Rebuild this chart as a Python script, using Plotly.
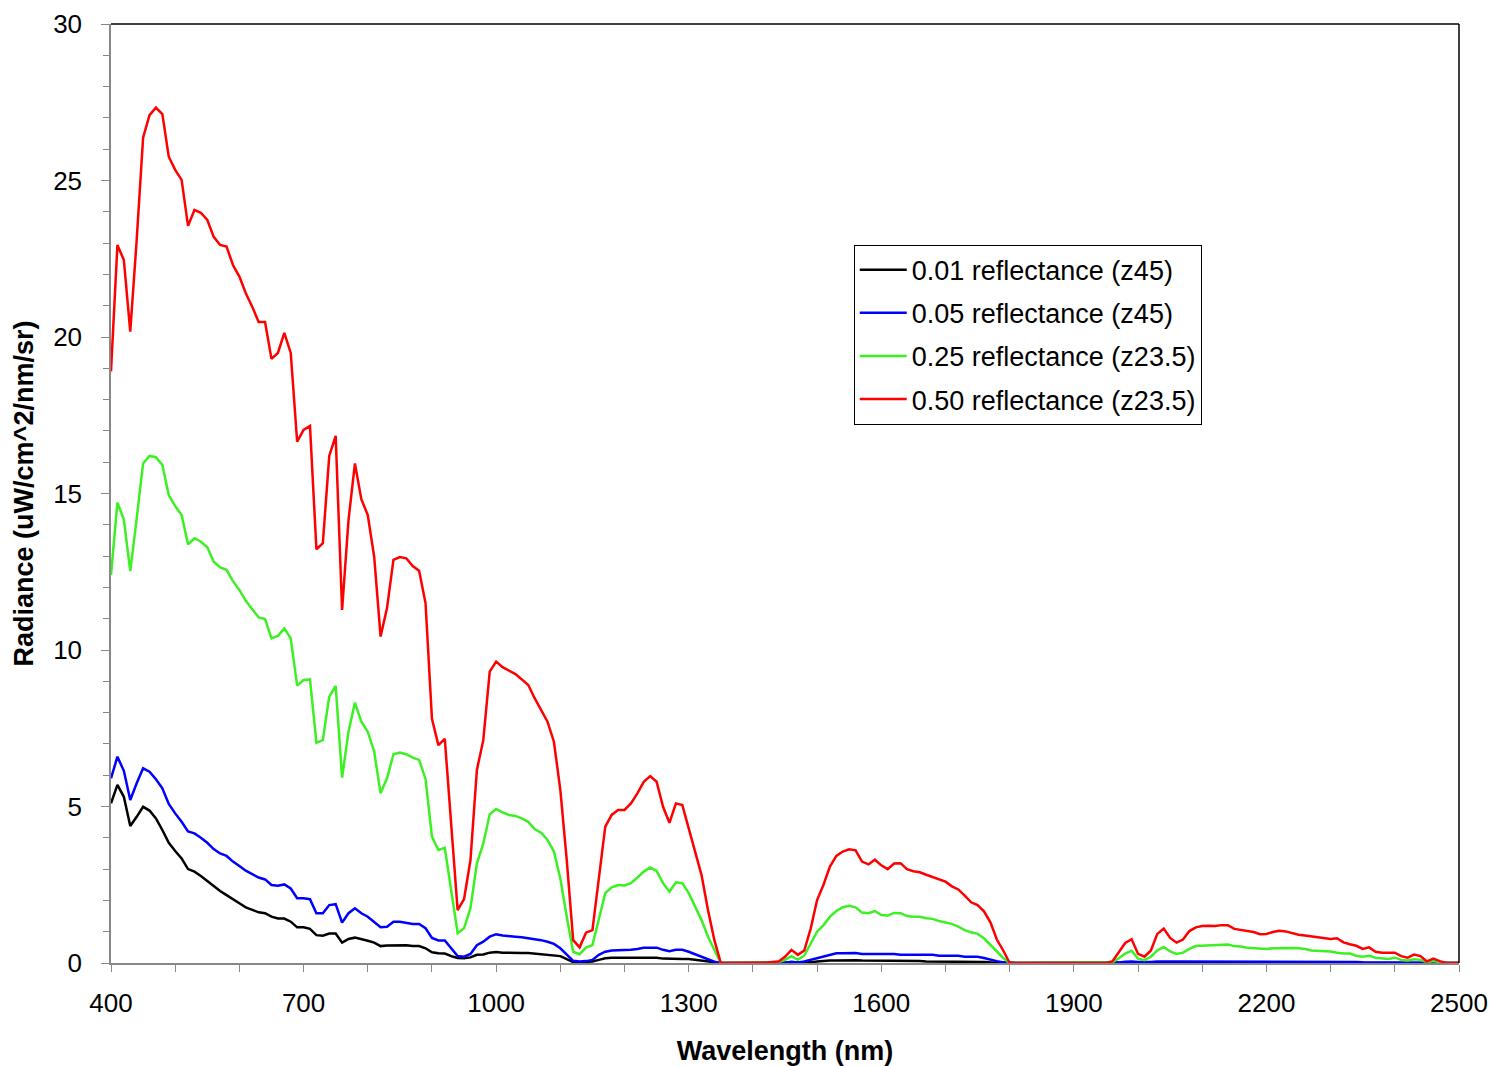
import plotly.graph_objects as go

wavelength = list(range(400, 2501, 10))

refl_001 = [
    5.1, 5.69, 5.31, 4.38, 4.67, 4.99, 4.87, 4.62, 4.25, 3.84,
    3.58, 3.34, 3.0, 2.92, 2.78, 2.62, 2.44, 2.3, 2.17, 2.03,
    1.91, 1.78, 1.69, 1.62, 1.59, 1.48, 1.42, 1.42, 1.32, 1.14,
    1.14, 1.09, 0.89, 0.87, 0.94, 0.94, 0.65, 0.77, 0.81, 0.77,
    0.71, 0.65, 0.54, 0.56, 0.57, 0.57, 0.57, 0.54, 0.54, 0.47,
    0.34, 0.31, 0.3, 0.22, 0.16, 0.15, 0.18, 0.26, 0.27, 0.33,
    0.35, 0.33, 0.32, 0.32, 0.32, 0.32, 0.3, 0.28, 0.28, 0.26,
    0.22, 0.12, 0.03, 0.02, 0.03, 0.05, 0.1, 0.15, 0.17, 0.17,
    0.17, 0.17, 0.17, 0.17, 0.17, 0.17, 0.14, 0.13, 0.13, 0.13,
    0.13, 0.1, 0.07, 0.04, 0.02, 0, 0, 0, 0, 0,
    0, 0, 0, 0, 0, 0, 0, 0, 0, 0.02,
    0.05, 0.07, 0.08, 0.08, 0.09, 0.09, 0.09, 0.08, 0.08, 0.08,
    0.08, 0.08, 0.08, 0.08, 0.08, 0.08, 0.06, 0.05, 0.05, 0.05,
    0.05, 0.04, 0.04, 0.04, 0.04, 0.03, 0.03, 0.02, 0.01, 0,
    0, 0, 0, 0, 0, 0, 0, 0, 0, 0,
    0, 0, 0, 0, 0, 0, 0, 0, 0.01, 0.02,
    0.02, 0.02, 0.02, 0.02, 0.02, 0.02, 0.02, 0.02, 0.02, 0.02,
    0.02, 0.02, 0.02, 0.02, 0.02, 0.02, 0.02, 0.02, 0.02, 0.02,
    0.02, 0.02, 0.02, 0.02, 0.02, 0.02, 0.02, 0.02, 0.02, 0.02,
    0.02, 0.02, 0.02, 0.01, 0.01, 0.01, 0.01, 0.01, 0.01, 0.01,
    0.01, 0.01, 0.01, 0.01, 0.01, 0, 0, 0, 0, 0,
    0,
]

refl_005 = [
    5.9, 6.59, 6.14, 5.21, 5.74, 6.22, 6.11, 5.87, 5.58, 5.08,
    4.78, 4.51, 4.2, 4.14, 4.0, 3.84, 3.64, 3.5, 3.42, 3.24,
    3.1, 2.95, 2.84, 2.73, 2.67, 2.49, 2.47, 2.51, 2.38, 2.07,
    2.07, 2.04, 1.59, 1.59, 1.85, 1.88, 1.29, 1.59, 1.75, 1.59,
    1.48, 1.32, 1.14, 1.16, 1.32, 1.32, 1.29, 1.25, 1.25, 1.11,
    0.8, 0.72, 0.72, 0.47, 0.22, 0.2, 0.29, 0.57, 0.68, 0.84,
    0.92, 0.88, 0.87, 0.84, 0.82, 0.79, 0.77, 0.73, 0.68, 0.61,
    0.47, 0.26, 0.07, 0.05, 0.06, 0.1, 0.26, 0.36, 0.4, 0.41,
    0.41, 0.42, 0.45, 0.49, 0.49, 0.49, 0.42, 0.38, 0.42, 0.42,
    0.36, 0.28, 0.19, 0.1, 0.04, 0, 0, 0, 0, 0,
    0, 0, 0, 0, 0, 0, 0.04, 0.02, 0.05, 0.1,
    0.15, 0.21, 0.27, 0.31, 0.31, 0.32, 0.32, 0.29, 0.29, 0.29,
    0.27, 0.28, 0.29, 0.26, 0.26, 0.26, 0.26, 0.26, 0.26, 0.23,
    0.23, 0.23, 0.23, 0.2, 0.2, 0.2, 0.16, 0.1, 0.06, 0.02,
    0, 0, 0, 0, 0, 0, 0, 0, 0, 0,
    0, 0, 0, 0, 0, 0, 0, 0.02, 0.04, 0.05,
    0.03, 0.02, 0.03, 0.05, 0.06, 0.05, 0.05, 0.05, 0.05, 0.05,
    0.05, 0.05, 0.05, 0.05, 0.05, 0.05, 0.05, 0.05, 0.05, 0.05,
    0.05, 0.05, 0.05, 0.05, 0.05, 0.05, 0.05, 0.05, 0.05, 0.05,
    0.04, 0.04, 0.03, 0.03, 0.03, 0.02, 0.02, 0.02, 0.02, 0.02,
    0.02, 0.01, 0.01, 0.01, 0.01, 0.01, 0.01, 0, 0, 0,
    0,
]

refl_025 = [
    12.4, 14.71, 14.17, 12.52, 14.2, 15.96, 16.2, 16.16, 15.91, 14.95,
    14.6, 14.31, 13.38, 13.57, 13.46, 13.28, 12.82, 12.64, 12.56, 12.2,
    11.92, 11.57, 11.3, 11.04, 10.99, 10.37, 10.45, 10.69, 10.37, 8.86,
    9.04, 9.06, 7.04, 7.12, 8.51, 8.85, 5.92, 7.39, 8.32, 7.71,
    7.39, 6.75, 5.42, 5.9, 6.67, 6.72, 6.67, 6.56, 6.49, 5.88,
    4.04, 3.61, 3.68, 2.3, 0.95, 1.11, 1.75, 3.18, 3.82, 4.75,
    4.92, 4.81, 4.73, 4.7, 4.62, 4.51, 4.28, 4.16, 3.93, 3.56,
    2.7, 1.48, 0.36, 0.28, 0.49, 0.57, 1.43, 2.23, 2.42, 2.49,
    2.48, 2.55, 2.73, 2.92, 3.05, 2.94, 2.55, 2.28, 2.58, 2.55,
    2.23, 1.8, 1.37, 0.84, 0.42, 0, 0, 0, 0, 0,
    0, 0, 0, 0.01, 0.03, 0.1, 0.22, 0.1, 0.24, 0.6,
    1.0, 1.21, 1.48, 1.66, 1.78, 1.83, 1.78, 1.61, 1.59, 1.66,
    1.53, 1.52, 1.6, 1.59, 1.5, 1.48, 1.48, 1.43, 1.41, 1.34,
    1.29, 1.25, 1.16, 1.05, 0.98, 0.93, 0.79, 0.57, 0.36, 0.16,
    0, 0, 0, 0, 0, 0, 0, 0, 0, 0,
    0, 0, 0, 0, 0, 0, 0.02, 0.15, 0.3, 0.39,
    0.14, 0.09, 0.2, 0.4, 0.51, 0.37, 0.29, 0.33, 0.45, 0.54,
    0.55, 0.58, 0.57, 0.6, 0.59, 0.54, 0.53, 0.49, 0.48, 0.45,
    0.45, 0.47, 0.48, 0.48, 0.48, 0.47, 0.45, 0.4, 0.39, 0.37,
    0.37, 0.33, 0.3, 0.3, 0.23, 0.2, 0.23, 0.17, 0.14, 0.13,
    0.17, 0.1, 0.08, 0.12, 0.1, 0.03, 0.06, 0.02, 0, 0,
    0,
]

refl_050 = [
    18.9, 22.94, 22.46, 20.17, 23.1, 26.37, 27.09, 27.33, 27.12, 25.76,
    25.34, 25.02, 23.55, 24.06, 23.97, 23.74, 23.2, 22.94, 22.89, 22.3,
    21.93, 21.4, 20.97, 20.48, 20.48, 19.3, 19.49, 20.13, 19.49, 16.66,
    17.03, 17.16, 13.22, 13.41, 16.2, 16.84, 11.28, 14.15, 15.96, 14.82,
    14.31, 12.98, 10.43, 11.34, 12.88, 12.97, 12.93, 12.68, 12.53, 11.5,
    7.8, 6.96, 7.16, 4.3, 1.69, 2.04, 3.29, 6.17, 7.12, 9.31,
    9.63, 9.45, 9.33, 9.23, 9.06, 8.88, 8.46, 8.1, 7.71, 7.07,
    5.53, 3.29, 0.73, 0.5, 0.97, 1.05, 2.65, 4.36, 4.73, 4.89,
    4.89, 5.1, 5.42, 5.79, 5.97, 5.79, 4.99, 4.48, 5.1, 5.05,
    4.3, 3.56, 2.81, 1.69, 0.73, 0, 0, 0, 0, 0,
    0, 0, 0.01, 0.03, 0.05, 0.2, 0.42, 0.26, 0.4, 1.1,
    2.01, 2.5, 3.08, 3.42, 3.56, 3.63, 3.6, 3.24, 3.15, 3.3,
    3.12, 3.0, 3.18, 3.19, 3.0, 2.93, 2.9, 2.82, 2.75, 2.68,
    2.6, 2.45, 2.35, 2.15, 1.94, 1.85, 1.65, 1.3, 0.75, 0.4,
    0, 0, 0, 0, 0, 0, 0, 0, 0, 0,
    0, 0, 0, 0, 0, 0, 0.05, 0.35, 0.64, 0.76,
    0.29, 0.2, 0.4, 0.93, 1.1, 0.8, 0.65, 0.75, 1.02, 1.14,
    1.18, 1.19, 1.18, 1.21, 1.21, 1.09, 1.05, 1.03, 0.99, 0.92,
    0.93, 0.99, 1.03, 1.01, 0.95, 0.9, 0.88, 0.85, 0.82, 0.79,
    0.77, 0.79, 0.66, 0.6, 0.55, 0.45, 0.5, 0.36, 0.33, 0.33,
    0.33, 0.22, 0.17, 0.27, 0.22, 0.05, 0.14, 0.06, 0, 0,
    0,
]

series_names = [
    "0.01 reflectance (z45)",
    "0.05 reflectance (z45)",
    "0.25 reflectance (z23.5)",
    "0.50 reflectance (z23.5)",
]
series_values = [refl_001, refl_005, refl_025, refl_050]
series_colors = ["#000000", "#0000FF", "#3CF023", "#FF0000"]

x_ticks = [400, 700, 1000, 1300, 1600, 1900, 2200, 2500]
y_ticks = [0, 5, 10, 15, 20, 25, 30]

fig = go.Figure()
for i, (name, vals, col) in enumerate(zip(series_names, series_values, series_colors)):
    fig.add_trace(go.Scatter(
        x=wavelength, y=vals, mode="lines", name=name,
        line=dict(color=col, width=2.5), legendgroup=f"g{i}",
    ))

font_family = "Liberation Sans, Arial, sans-serif"
fig.update_layout(
    width=1491, height=1066,
    margin=dict(l=111, r=32, t=24, b=103),
    paper_bgcolor="white", plot_bgcolor="white",
    font=dict(family=font_family, color="black"),
    showlegend=True,
    legend=dict(
        x=0.551, y=0.765, xanchor="left", yanchor="top",
        bgcolor="white", bordercolor="black", borderwidth=1,
        font=dict(size=27, family=font_family, color="black"),
        traceorder="grouped", tracegroupgap=5, itemwidth=47,
    ),
    xaxis=dict(
        range=[400, 2500], tickmode="array", tickvals=x_ticks,
        ticks="outside", ticklen=7, tickcolor="#888888", tickwidth=1,
        minor=dict(dtick=100, ticks="outside", ticklen=7, tickcolor="#888888"),
        showline=True, linecolor="#888888", linewidth=1.5,
        showgrid=False, zeroline=False, automargin=False,
        tickfont=dict(size=26), ticklabelstandoff=9,
        title=dict(text="<b>Wavelength (nm)</b>", font=dict(size=27), standoff=24),
    ),
    yaxis=dict(
        range=[0, 30], tickmode="array", tickvals=y_ticks,
        ticks="outside", ticklen=8, tickcolor="#888888", tickwidth=1,
        minor=dict(dtick=1, ticks="outside", ticklen=6, tickcolor="#888888"),
        showline=True, linecolor="#888888", linewidth=1.5,
        showgrid=False, zeroline=False, automargin=False,
        tickfont=dict(size=26), ticklabelstandoff=14,
        title=dict(text="<b>Radiance (uW/cm^2/nm/sr)</b>", font=dict(size=27), standoff=12),
    ),
    shapes=[
        dict(type="line", xref="paper", yref="paper", x0=0, x1=1, y0=1, y1=1,
             line=dict(color="black", width=1.5)),
        dict(type="line", xref="paper", yref="paper", x0=1, x1=1, y0=0, y1=1,
             line=dict(color="black", width=1.5)),
    ],
)

fig.write_html("out.html")
